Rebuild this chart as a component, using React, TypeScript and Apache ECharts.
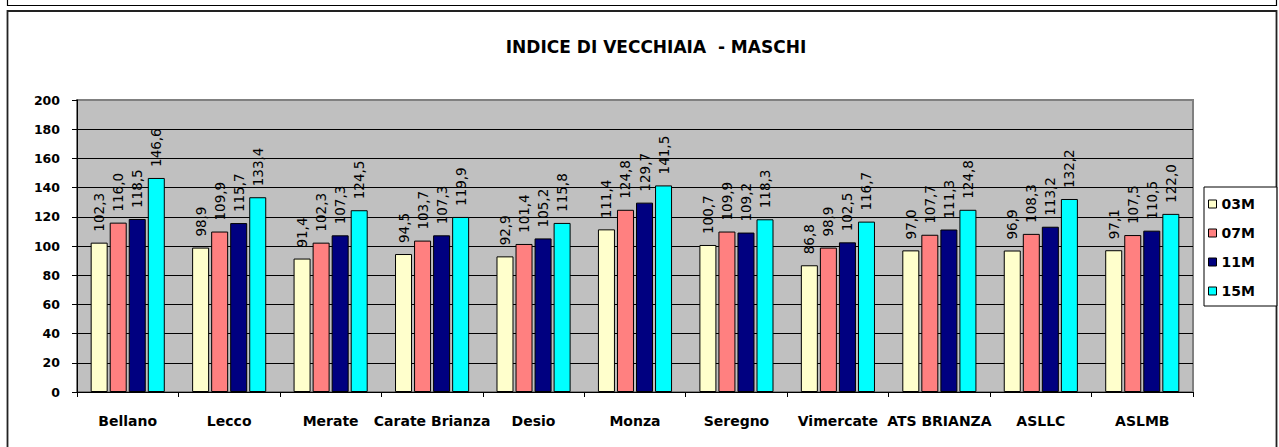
import React, { useEffect, useRef } from "react";
import * as echarts from "echarts";

const categories = [
  "Bellano",
  "Lecco",
  "Merate",
  "Carate Brianza",
  "Desio",
  "Monza",
  "Seregno",
  "Vimercate",
  "ATS BRIANZA",
  "ASLLC",
  "ASLMB",
];

const seriesNames = ["03M", "07M", "11M", "15M"];

const values03M = [102.3, 98.9, 91.4, 94.5, 92.9, 111.4, 100.7, 86.8, 97.0, 96.9, 97.1];
const values07M = [116.0, 109.9, 102.3, 103.7, 101.4, 124.8, 109.9, 98.9, 107.7, 108.3, 107.5];
const values11M = [118.5, 115.7, 107.3, 107.3, 105.2, 129.7, 109.2, 102.5, 111.3, 113.2, 110.5];
const values15M = [146.6, 133.4, 124.5, 119.9, 115.8, 141.5, 118.3, 116.7, 124.8, 132.2, 122.0];

const seriesValues = [values03M, values07M, values11M, values15M];
const colors = ["#FFFFCC", "#FF8080", "#000080", "#00FFFF"];

const titleText = "INDICE DI VECCHIAIA  - MASCHI";

export default function App() {
  const ref = useRef<HTMLDivElement>(null);

  useEffect(() => {
    if (!ref.current) return;
    const chart = echarts.init(ref.current, null, { renderer: "svg" });
    const font = "'DejaVu Sans', sans-serif";

    chart.setOption({
      animation: false,
      backgroundColor: "#ffffff",
      title: {
        text: titleText,
        left: 656,
        top: 38,
        padding: 0,
        textAlign: "center",
        textStyle: {
          fontFamily: font,
          fontSize: 17,
          fontWeight: "bold",
          color: "#000",
        },
      },
      graphic: [
        {
          type: "rect",
          silent: true,
          shape: { x: 7.5, y: -10, width: 1269, height: 15.5 },
          style: { fill: "none", stroke: "#000", lineWidth: 1.2 },
        },
        {
          type: "rect",
          silent: true,
          shape: { x: 7.5, y: 11, width: 1269, height: 445 },
          style: { fill: "none", stroke: "#222", lineWidth: 1.8 },
        },
      ],
      legend: {
        orient: "vertical",
        left: 1204,
        top: 187,
        padding: [10, 22, 8, 4],
        itemGap: 15,
        itemWidth: 8,
        itemHeight: 8,
        icon: "rect",
        backgroundColor: "#ffffff",
        borderColor: "#000",
        borderWidth: 1,
        itemStyle: { borderColor: "#000", borderWidth: 1 },
        textStyle: {
          fontFamily: font,
          fontSize: 14,
          fontWeight: "bold",
          color: "#000",
          padding: [0, 0, 0, 0],
        },
        data: seriesNames,
      },
      grid: {
        left: 77,
        top: 100,
        width: 1116,
        height: 292,
        show: true,
        backgroundColor: "#C0C0C0",
        borderColor: "#808080",
        borderWidth: 2,
        containLabel: false,
      },
      xAxis: {
        type: "category",
        data: categories,
        boundaryGap: true,
        axisLine: { show: true, lineStyle: { color: "#000", width: 1 } },
        axisTick: {
          show: true,
          alignWithLabel: false,
          length: 5,
          lineStyle: { color: "#000" },
        },
        axisLabel: {
          margin: 22,
          interval: 0,
          fontFamily: font,
          fontSize: 14,
          fontWeight: "bold",
          color: "#000",
        },
        splitLine: { show: false },
      },
      yAxis: {
        type: "value",
        min: 0,
        max: 200,
        interval: 20,
        axisLine: { show: true, lineStyle: { color: "#000", width: 1 } },
        axisTick: { show: true, length: 5, lineStyle: { color: "#000" } },
        axisLabel: {
          margin: 17,
          fontFamily: font,
          fontSize: 12.5,
          fontWeight: "bold",
          color: "#000",
        },
        splitLine: {
          show: true,
          showMaxLine: false,
          lineStyle: { color: "#000", width: 1, type: "solid" },
        },
      },
      series: seriesNames.map((name, i) => ({
        name,
        type: "bar",
        data: seriesValues[i],
        barWidth: 17,
        barGap: "12%",
        itemStyle: {
          color: colors[i],
          borderColor: "#000",
          borderWidth: 1,
        },
        label: {
          show: true,
          position: "top",
          rotate: 90,
          align: "left",
          verticalAlign: "middle",
          distance: 11,
          fontFamily: font,
          fontSize: 13.5,
          fontWeight: "normal",
          color: "#000",
          formatter: (p: any) => Number(p.value).toFixed(1).replace(".", ","),
        },
      })),
    });

    return () => chart.dispose();
  }, []);

  return (
    <div
      ref={ref}
      style={{ position: "absolute", left: 0, top: 0, width: 1279, height: 447 }}
    />
  );
}
